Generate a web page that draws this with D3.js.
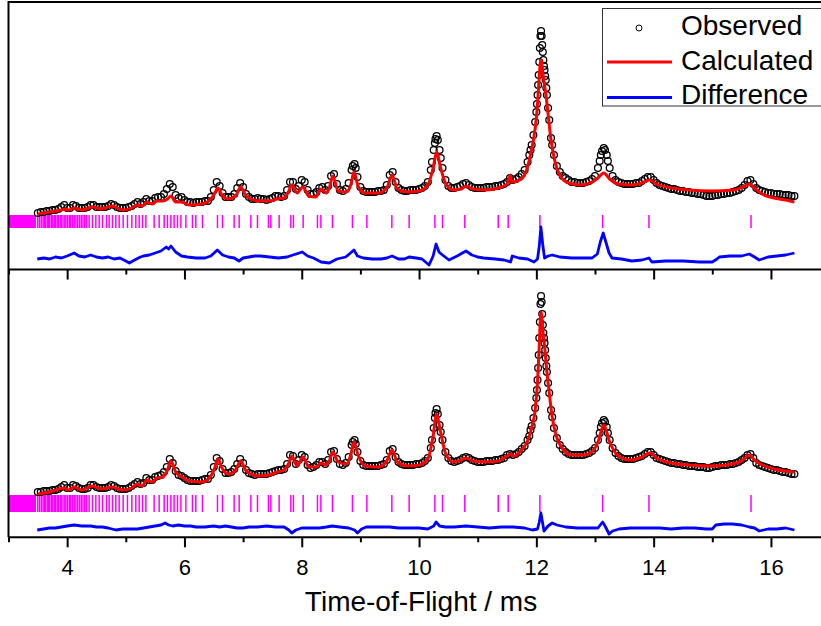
<!DOCTYPE html>
<html>
<head>
<meta charset="utf-8">
<script src="https://cdn.jsdelivr.net/npm/d3@7"></script>
<style>
  body { margin: 0; background: #fff; }
  svg { display: block; font-family: "Liberation Sans", Arial, sans-serif; }
</style>
</head>
<body>
<script>
// time-of-flight axis (ms)
const tofDomain = [3, 17]
const majorTicks = [4, 6, 8, 10, 12, 14, 16]
const minorTicks = [3, 5, 7, 9, 11, 13, 15, 17]

// observed intensity (a.u.), sampled every 0.05 ms from 3.50 ms
const obsTopGrid = [
  0, 1, 1, 2, 2, 3, 3, 4, 6, 8,                                        // 3.50 - 3.95
  5, 5, 8, 7, 5, 5, 5, 6, 8, 8, 6, 6, 6, 6, 7, 9, 8, 6, 5, 5,          // 4
  5, 6, 7, 9, 11, 9, 11, 14, 12, 12, 15, 16, 16, 19, 24, 29, 26, 18, 15, 16, // 5
  13, 11, 11, 10, 11, 11, 11, 12, 12, 16, 23, 31, 27, 20, 16, 16, 16, 19, 25, 30, // 6
  26, 19, 16, 14, 14, 15, 14, 14, 13, 14, 15, 17, 17, 16, 17, 23, 31, 31, 24, 27, // 7
  33, 31, 23, 19, 19, 21, 25, 26, 23, 27, 37, 39, 29, 23, 22, 24, 30, 43, 49, 36, // 8
  26, 22, 21, 21, 21, 21, 22, 22, 23, 28, 38, 41, 31, 25, 23, 22, 22, 23, 23, 23, // 9
  24, 25, 27, 31, 43, 63, 77, 63, 45, 33, 27, 25, 25, 26, 27, 29, 30, 28, 26, 25, // 10
  25, 25, 25, 26, 26, 26, 27, 27, 28, 29, 31, 35, 33, 34, 36, 39, 43, 51, 63, 78, // 11
  101, 151, 168, 137, 105, 75, 58, 47, 41, 37, 35, 33, 31, 31, 30, 30, 30, 31, 32, 34, // 12
  37, 45, 58, 65, 58, 45, 37, 33, 31, 30, 29, 29, 29, 29, 30, 30, 32, 34, 36, 36, // 13
  33, 30, 28, 27, 26, 25, 24, 24, 23, 22, 22, 21, 21, 20, 20, 19, 19, 18, 17, 17, // 14
  17, 18, 18, 19, 19, 20, 20, 21, 22, 23, 25, 28, 32, 33, 29, 25, 23, 22, 21, 20, // 15
  20, 19, 19, 19, 18, 18, 18, 17, 17                                   // 16 - 16.40
]
// extra observed points on the steep peak flanks
const obsTopPeaks = [
  [8.87, 47], [8.92, 45],
  [10.22, 51], [10.27, 70], [10.28, 74], [10.32, 73], [10.37, 55],
  [11.88, 58], [11.92, 68], [11.98, 91], [12.01, 109], [12.02, 118], [12.03, 128], [12.04, 138],
  [12.06, 165], [12.07, 177], [12.08, 182], [12.09, 177], [12.11, 161], [12.12, 153], [12.13, 147],
  [12.14, 143], [12.16, 133], [12.17, 125], [12.18, 118], [12.22, 93], [12.27, 68],
  [13.08, 52], [13.12, 62], [13.17, 63], [13.22, 52]
]

const obsLowGrid = [
  1, 1, 2, 2, 2, 3, 3, 4, 6, 8,
  5, 5, 8, 7, 5, 4, 4, 5, 8, 8, 6, 5, 5, 5, 6, 8, 7, 5, 4, 4,
  4, 5, 7, 9, 11, 9, 10, 15, 13, 13, 16, 17, 18, 21, 26, 34, 30, 22, 18, 17,
  15, 13, 12, 12, 12, 12, 13, 14, 14, 18, 26, 35, 32, 24, 20, 20, 21, 24, 29, 34,
  30, 23, 20, 19, 18, 19, 19, 19, 19, 20, 21, 22, 23, 23, 24, 29, 38, 37, 29, 33,
  38, 36, 28, 25, 26, 28, 31, 31, 29, 33, 41, 42, 34, 29, 28, 30, 36, 48, 53, 41,
  32, 28, 27, 27, 27, 27, 27, 28, 29, 33, 42, 44, 36, 31, 29, 28, 28, 28, 28, 29,
  29, 30, 32, 35, 45, 65, 84, 68, 53, 41, 35, 32, 31, 32, 33, 35, 36, 35, 33, 32,
  31, 31, 31, 32, 32, 32, 33, 33, 34, 35, 38, 39, 38, 39, 41, 44, 47, 53, 63, 75,
  95, 155, 179, 143, 110, 83, 65, 55, 48, 44, 41, 39, 38, 38, 38, 38, 38, 39, 40, 42,
  45, 53, 66, 73, 66, 53, 45, 40, 37, 35, 34, 34, 34, 34, 35, 36, 37, 39, 41, 41,
  38, 35, 34, 33, 32, 31, 30, 30, 29, 29, 28, 28, 27, 27, 27, 26, 26, 26, 25, 25,
  26, 27, 27, 28, 28, 28, 29, 29, 30, 31, 33, 35, 38, 39, 35, 30, 28, 27, 26, 25,
  24, 23, 23, 22, 21, 21, 20, 19, 19
]
const obsLowPeaks = [
  [8.87, 51], [8.92, 49],
  [10.22, 53], [10.27, 75], [10.28, 80], [10.32, 79], [10.37, 61],
  [11.88, 57], [11.92, 67], [11.98, 85], [12.01, 103], [12.02, 113], [12.03, 125], [12.04, 138],
  [12.06, 171], [12.07, 189], [12.08, 197], [12.09, 191], [12.11, 168], [12.12, 160], [12.13, 155],
  [12.14, 150], [12.16, 135], [12.17, 127], [12.18, 121], [12.22, 100], [12.27, 76],
  [13.08, 60], [13.12, 70], [13.17, 71], [13.22, 60]
]

// calculated profiles [tof, intensity]
const calcTop = [
  [3.50, -1], [3.70, 1], [3.90, 3], [3.95, 4], [4.02, 3], [4.12, 5], [4.25, 3], [4.43, 6], [4.58, 4],
  [4.76, 7], [4.95, 3], [5.10, 5], [5.19, 8], [5.28, 7], [5.36, 11], [5.45, 9], [5.53, 12], [5.63, 12],
  [5.71, 14], [5.77, 17], [5.85, 11], [5.96, 11], [6.08, 8], [6.30, 9], [6.45, 14], [6.51, 19],
  [6.57, 25], [6.64, 18], [6.75, 14], [6.87, 17], [6.96, 26], [7.05, 17], [7.18, 13], [7.30, 12],
  [7.45, 12], [7.58, 14], [7.70, 15], [7.78, 22], [7.83, 28], [7.92, 20], [8.02, 26], [8.12, 17],
  [8.24, 16], [8.33, 24], [8.42, 20], [8.47, 25], [8.53, 37], [8.62, 22], [8.76, 21], [8.84, 29],
  [8.89, 41], [8.96, 27], [9.08, 20], [9.30, 20], [9.45, 25], [9.54, 38], [9.63, 24], [9.80, 21],
  [10.00, 22], [10.15, 28], [10.24, 45], [10.30, 61], [10.36, 47], [10.45, 30], [10.58, 23],
  [10.72, 24], [10.80, 27], [10.92, 24], [11.15, 23], [11.35, 25], [11.50, 29], [11.56, 38],
  [11.58, 31], [11.68, 32], [11.80, 38], [11.88, 53], [11.95, 73], [12.00, 95], [12.03, 118],
  [12.05, 137], [12.07, 151], [12.08, 153], [12.09, 151], [12.11, 141], [12.14, 128], [12.17, 115],
  [12.20, 99], [12.25, 73], [12.30, 56], [12.40, 38], [12.55, 30], [12.75, 28], [12.95, 31],
  [13.05, 35], [13.15, 40], [13.25, 34], [13.40, 29], [13.60, 28], [13.80, 30], [13.93, 33],
  [14.05, 29], [14.30, 25], [14.60, 23], [15.00, 22], [15.35, 23], [15.52, 26], [15.63, 29],
  [15.72, 25], [15.85, 19], [16.05, 15], [16.25, 13], [16.40, 11]
]
const calcLow = [
  [3.50, -1], [3.70, 1], [3.95, 5], [4.02, 3], [4.12, 6], [4.25, 3], [4.43, 7], [4.58, 4],
  [4.76, 6], [4.95, 3], [5.10, 5], [5.19, 9], [5.28, 7], [5.36, 13], [5.45, 11], [5.53, 15], [5.63, 16],
  [5.71, 23], [5.77, 32], [5.85, 21], [5.96, 16], [6.08, 12], [6.30, 11], [6.45, 17], [6.51, 24],
  [6.57, 34], [6.64, 25], [6.75, 19], [6.87, 23], [6.96, 32], [7.05, 22], [7.18, 18], [7.30, 17],
  [7.45, 18], [7.58, 21], [7.70, 23], [7.78, 30], [7.83, 37], [7.92, 27], [8.02, 36], [8.12, 26],
  [8.24, 26], [8.33, 30], [8.42, 28], [8.47, 32], [8.53, 41], [8.62, 31], [8.76, 29], [8.84, 39],
  [8.89, 51], [8.96, 38], [9.08, 27], [9.30, 26], [9.45, 32], [9.54, 43], [9.63, 31], [9.80, 27],
  [10.00, 28], [10.15, 34], [10.24, 57], [10.30, 79], [10.36, 63], [10.45, 40], [10.58, 31],
  [10.72, 33], [10.80, 35], [10.92, 32], [11.15, 31], [11.35, 32], [11.50, 37], [11.56, 39],
  [11.62, 37], [11.75, 43], [11.85, 52], [11.92, 65], [11.98, 83], [12.02, 111], [12.05, 148],
  [12.07, 175], [12.08, 181], [12.09, 177], [12.11, 163], [12.14, 147], [12.17, 127], [12.22, 100],
  [12.27, 76], [12.33, 59], [12.45, 44], [12.60, 38], [12.80, 38], [12.95, 41], [13.05, 51],
  [13.15, 68], [13.25, 51], [13.40, 37], [13.60, 33], [13.80, 36], [13.93, 40], [14.05, 35],
  [14.30, 30], [14.60, 28], [15.00, 27], [15.35, 29], [15.52, 33], [15.63, 38], [15.72, 33],
  [15.85, 28], [16.05, 24], [16.25, 22], [16.40, 21]
]

// observed - calculated [tof, difference]
const diffTop = [
  [3.49, 1], [3.6, 2], [3.7, 1], [3.8, 3], [3.9, 2], [4.0, 4], [4.12, 7], [4.2, 4], [4.3, 3], [4.4, 5],
  [4.5, 3], [4.6, 2], [4.7, 3], [4.8, 1], [4.9, 2], [5.0, -1], [5.06, -3], [5.15, 0], [5.25, 3], [5.3, 4],
  [5.4, 5], [5.5, 7], [5.6, 9], [5.69, 13], [5.73, 11], [5.77, 14], [5.85, 8], [5.95, 4], [6.05, 3],
  [6.2, 2], [6.35, 2], [6.45, 4], [6.56, 10], [6.65, 5], [6.75, 3], [6.85, 2], [6.93, -1], [7.0, 2],
  [7.1, 3], [7.2, 4], [7.3, 4], [7.45, 3], [7.6, 2], [7.75, 3], [7.85, 5], [8.01, 8], [8.1, 4], [8.2, 2],
  [8.33, -2], [8.47, -3], [8.6, 1], [8.75, 3], [8.89, 10], [8.95, 4], [9.05, 2], [9.2, 1], [9.35, 1],
  [9.45, 2], [9.54, 4], [9.65, 1], [9.75, 1], [9.83, 3], [9.95, 2], [10.05, 1], [10.17, -5], [10.24, 4],
  [10.29, 16], [10.34, 8], [10.40, 5], [10.51, 0], [10.65, 4], [10.8, 9], [10.9, 5], [11.0, 3], [11.1, 2],
  [11.3, 1], [11.45, 0], [11.56, -2], [11.59, 4], [11.7, 2], [11.85, 1], [11.96, -2], [12.02, 1],
  [12.05, 14], [12.077, 33], [12.11, 15], [12.14, 2], [12.2, 4], [12.27, 5], [12.4, 3], [12.6, 2],
  [12.8, 2], [12.95, 2], [13.04, 6], [13.09, 18], [13.14, 27], [13.19, 17], [13.24, 7], [13.29, 2],
  [13.45, 1], [13.63, -1], [13.8, 0], [13.92, 2], [13.97, -2], [14.2, -1], [14.5, -1], [14.78, -2],
  [15.0, -2], [15.08, 1], [15.12, 3], [15.3, 4], [15.5, 4], [15.63, 6], [15.72, 3], [15.8, 0],
  [15.95, 3], [16.1, 4], [16.25, 5], [16.4, 7]
]
const diffLow = [
  [3.49, -2], [3.6, -1], [3.7, 0], [3.8, 0], [3.9, 1], [4.0, 2], [4.12, 3], [4.25, 2], [4.4, 2], [4.5, 1],
  [4.6, 1], [4.7, 0], [4.83, -2], [4.95, -1], [5.1, -1], [5.2, -1], [5.3, 0], [5.4, 1], [5.5, 2], [5.6, 3],
  [5.67, 5], [5.73, 3], [5.8, 2], [5.9, 3], [6.0, 2], [6.1, 2], [6.2, 1], [6.35, 1], [6.5, 2], [6.6, 1],
  [6.7, 2], [6.8, 1], [6.9, 0], [7.0, 0], [7.1, 1], [7.25, 1], [7.4, 2], [7.55, 1], [7.7, 1], [7.78, -2],
  [7.83, -5], [7.9, -2], [8.0, 0], [8.15, 0], [8.3, 0], [8.42, 1], [8.52, 2], [8.65, 1], [8.8, 0],
  [8.9, -2], [8.95, -5], [9.02, -1], [9.1, 1], [9.3, 1], [9.5, 1], [9.65, 0], [9.83, 0], [10.0, 0],
  [10.15, -1], [10.25, 2], [10.29, 6], [10.35, 2], [10.45, 1], [10.6, 1], [10.8, 2], [11.0, 1], [11.2, 0],
  [11.4, 1], [11.6, 1], [11.8, 0], [11.93, -2], [12.02, -1], [12.05, 6], [12.077, 15], [12.11, 4],
  [12.13, -3], [12.2, 2], [12.27, 5], [12.35, 3], [12.5, 1], [12.7, 0], [12.9, 0], [13.05, 0], [13.13, 6],
  [13.18, 1], [13.24, -6], [13.3, -3], [13.41, -1], [13.6, 0], [13.8, 0], [13.92, 0], [14.1, 0],
  [14.3, -1], [14.5, 0], [14.7, 0], [14.9, -1], [15.0, -1], [15.06, 3], [15.2, 4], [15.34, 4], [15.5, 3],
  [15.63, 1], [15.72, 0], [15.8, -3], [15.95, -1], [16.1, -1], [16.25, 0], [16.4, -2]
]

// Bragg reflection positions (ms); below 3.47 ms they merge into a solid band
const reflectionBand = [3.0, 3.47]
const reflections = [
  3.50, 3.53, 3.56, 3.59, 3.61, 3.63, 3.66, 3.68, 3.70, 3.73, 3.75, 3.78, 3.80, 3.83, 3.85, 3.88,
  3.90, 3.93, 3.96, 3.98, 4.01, 4.04, 4.06, 4.09, 4.12, 4.15, 4.18, 4.21, 4.24, 4.27, 4.30, 4.33,
  4.375, 4.431, 4.489, 4.546, 4.602, 4.670, 4.716, 4.772, 4.830, 4.887, 4.955, 5.028, 5.103, 5.171,
  5.228, 5.284, 5.342, 5.483, 5.569, 5.654, 5.710, 5.768, 5.824, 5.881, 5.939, 6.024, 6.136, 6.194,
  6.307, 6.563, 6.648, 6.847, 6.933, 7.132, 7.245, 7.432, 7.473, 7.615, 7.814, 7.858, 8.024, 8.268,
  8.326, 8.523, 8.864, 9.110, 9.536, 9.831, 10.27, 10.40, 10.78, 11.35, 11.52, 12.06, 13.13, 13.92, 15.66
]

const legendLabels = ['Observed', 'Calculated', 'Difference']

function drawChart() {
    const width = 821
    const height = 626
    const left = 8.5
    const topY = 2
    const midY = 269.5
    const bottomY = 537.3

    const svg = d3.select('body')
        .append('svg')
        .attr('width', width)
        .attr('height', height)

    svg.append('rect').attr('width', width).attr('height', height).attr('fill', '#fff')

    const x = d3.scaleLinear()
        .domain(tofDomain)
        .range([left, left + 14 * 58.65])

    // panel scales: intensity a.u. -> pixels
    const yTop = d3.scaleLinear().domain([-56.5, 211]).range([midY, topY])
    const yLow = d3.scaleLinear().domain([-44.3, 223.5]).range([bottomY, midY])

    const panels = [
        { obs: obsTopGrid.map((v, i) => [3.5 + i * 0.05, v]).concat(obsTopPeaks), calc: calcTop, diff: diffTop, y: yTop, diffBase: -47, tickRow: [-2, -15] },
        { obs: obsLowGrid.map((v, i) => [3.5 + i * 0.05, v]).concat(obsLowPeaks), calc: calcLow, diff: diffLow, y: yLow, diffBase: -35, tickRow: [-2, -19] }
    ]

    panels.forEach(p => {
        const g = svg.append('g')

        // reflection tick marks
        g.append('rect')
            .attr('x', x(reflectionBand[0]))
            .attr('y', p.y(p.tickRow[0]))
            .attr('width', x(reflectionBand[1]) - x(reflectionBand[0]))
            .attr('height', p.y(p.tickRow[1]) - p.y(p.tickRow[0]))
            .attr('fill', '#ff00ff')
        g.selectAll('line.refl')
            .data(reflections)
            .enter().append('line')
            .attr('class', 'refl')
            .attr('x1', d => x(d)).attr('x2', d => x(d))
            .attr('y1', p.y(p.tickRow[0])).attr('y2', p.y(p.tickRow[1]))
            .attr('stroke', '#ff00ff')
            .attr('stroke-width', 1.5)

        // observed points
        g.selectAll('circle')
            .data(p.obs)
            .enter().append('circle')
            .attr('cx', d => x(d[0]))
            .attr('cy', d => p.y(d[1]))
            .attr('r', 3.4)
            .attr('fill', 'none')
            .attr('stroke', '#000')
            .attr('stroke-width', 1.3)

        // calculated
        g.append('path')
            .datum(p.calc)
            .attr('d', d3.line().x(d => x(d[0])).y(d => p.y(d[1])).curve(d3.curveMonotoneX))
            .attr('fill', 'none')
            .attr('stroke', '#ff0000')
            .attr('stroke-width', 3)

        // difference
        g.append('path')
            .datum(p.diff)
            .attr('d', d3.line().x(d => x(d[0])).y(d => p.y(d[1] + p.diffBase)))
            .attr('fill', 'none')
            .attr('stroke', '#0000ff')
            .attr('stroke-width', 2.8)
            .attr('stroke-linejoin', 'round')
    })

    // axes (ticks point down from both horizontal lines)
    ;[midY, bottomY].forEach(yPos => {
        const major = svg.append('g')
            .attr('transform', 'translate(0,' + yPos + ')')
            .call(d3.axisBottom(x).tickValues(majorTicks).tickSize(10).tickSizeOuter(0).tickPadding(12)
                .tickFormat(yPos === bottomY ? d3.format('d') : () => ''))
        major.select('.domain').remove()
        major.selectAll('line').attr('stroke', '#000').attr('stroke-width', 2)
        major.selectAll('text').attr('font-size', 22).attr('font-family', '"Liberation Sans", Arial, sans-serif').attr('fill', '#000')

        const minor = svg.append('g')
            .attr('transform', 'translate(0,' + yPos + ')')
            .call(d3.axisBottom(x).tickValues(minorTicks).tickSize(5).tickSizeOuter(0).tickFormat(() => ''))
        minor.select('.domain').remove()
        minor.selectAll('line').attr('stroke', '#000').attr('stroke-width', 2)
    })

    // frame
    const frame = svg.append('g').attr('stroke', '#000').attr('stroke-width', 2)
    frame.append('line').attr('x1', left).attr('x2', width).attr('y1', topY).attr('y2', topY)
    frame.append('line').attr('x1', left).attr('x2', width).attr('y1', midY).attr('y2', midY)
    frame.append('line').attr('x1', left).attr('x2', width).attr('y1', bottomY).attr('y2', bottomY)
    frame.append('line').attr('x1', left).attr('x2', left).attr('y1', topY - 1).attr('y2', bottomY)

    svg.append('text')
        .attr('x', 421)
        .attr('y', 611)
        .attr('text-anchor', 'middle')
        .attr('font-size', 28)
        .text('Time-of-Flight / ms')

    // legend
    const lg = svg.append('g')
    lg.append('rect')
        .attr('x', 602.5).attr('y', 8.5)
        .attr('width', 240).attr('height', 97.5)
        .attr('fill', '#fff')
        .attr('stroke', '#333')
        .attr('stroke-width', 1)
    const rows = [35, 69.5, 104]
    lg.selectAll('text')
        .data(legendLabels)
        .enter().append('text')
        .attr('x', 681)
        .attr('y', (d, i) => rows[i])
        .attr('font-size', 28)
        .text(d => d)
    lg.append('circle').attr('cx', 639).attr('cy', 28).attr('r', 3)
        .attr('fill', 'none').attr('stroke', '#000').attr('stroke-width', 1)
    lg.append('line').attr('x1', 607).attr('x2', 672).attr('y1', 62).attr('y2', 62)
        .attr('stroke', '#ff0000').attr('stroke-width', 3)
    lg.append('line').attr('x1', 607).attr('x2', 672).attr('y1', 97.5).attr('y2', 97.5)
        .attr('stroke', '#0000ff').attr('stroke-width', 3)
}

drawChart()
</script>
</body>
</html>
